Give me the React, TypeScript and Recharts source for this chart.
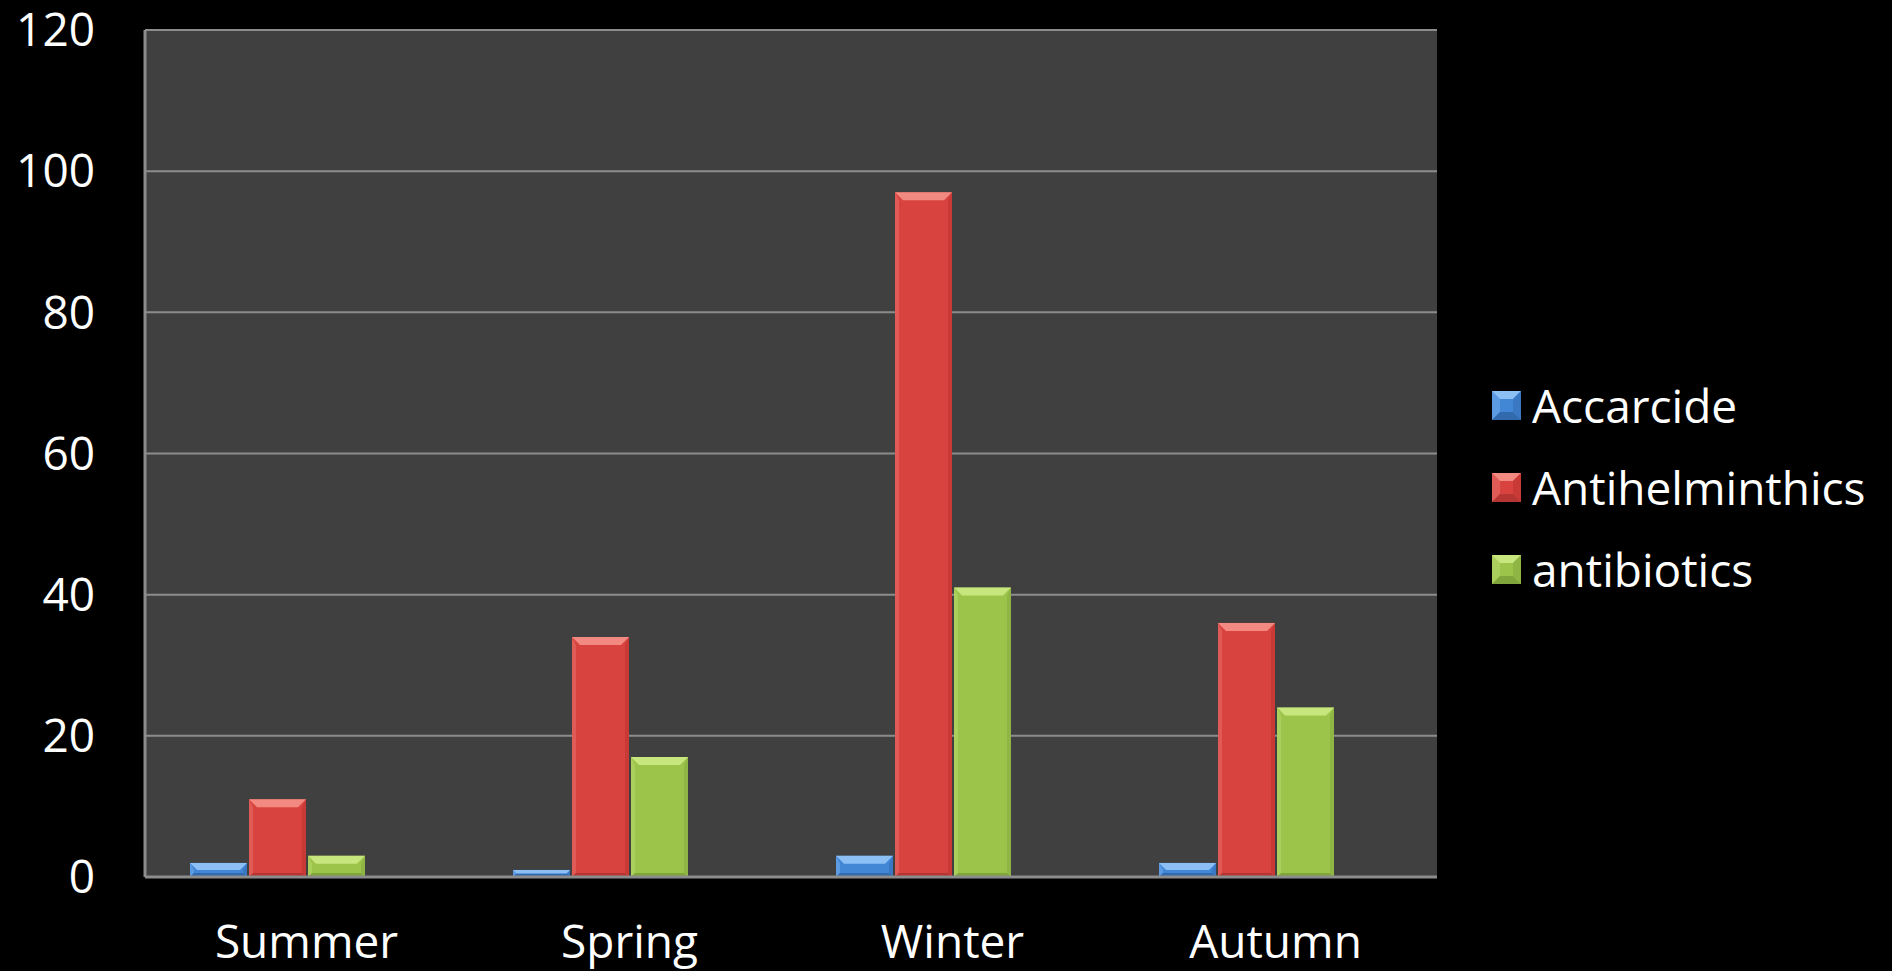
import React from 'react';
import { BarChart, Bar, XAxis, YAxis, CartesianGrid, Legend } from 'recharts';

const categories = ['Summer', 'Spring', 'Winter', 'Autumn'];
const accarcide = [2, 1, 3, 2];
const antihelminthics = [11, 34, 97, 36];
const antibiotics = [3, 17, 41, 24];
const yTicks = [0, 20, 40, 60, 80, 100, 120];

const data = categories.map((c, i) => ({
  name: c,
  Accarcide: accarcide[i],
  Antihelminthics: antihelminthics[i],
  antibiotics: antibiotics[i],
}));

const FONT = '"Open Sans", sans-serif';

const palette: Record<string, { base: string; light: string; side: string; dark: string }> = {
  Accarcide: { base: '#4286d6', light: '#8cc0f5', side: '#3a78c4', dark: '#2c5e9c' },
  Antihelminthics: { base: '#d8433f', light: '#f28a82', side: '#c93a36', dark: '#a52f2c' },
  antibiotics: { base: '#9cc44b', light: '#c8e67e', side: '#8fb644', dark: '#759a34' },
};

const BevelBar = (props: any) => {
  const { x, y, width, height, k } = props;
  const c = palette[k];
  if (!c || !height || height <= 0 || !width) return null;
  const b = Math.min(8, height / 2, width / 2);
  const sb = Math.min(4, width / 4, height / 2);
  const x2 = x + width;
  const y2 = y + height;
  return (
    <g>
      <rect x={x} y={y} width={width} height={height} fill={c.base} />
      <polygon points={`${x},${y} ${x + sb},${y + b} ${x + sb},${y2 - sb} ${x},${y2}`} fill={c.light} opacity={0.35} />
      <polygon points={`${x2},${y} ${x2 - sb},${y + b} ${x2 - sb},${y2 - sb} ${x2},${y2}`} fill={c.side} />
      <polygon points={`${x},${y2} ${x + sb},${y2 - sb} ${x2 - sb},${y2 - sb} ${x2},${y2}`} fill={c.dark} opacity={0.7} />
      <polygon points={`${x},${y} ${x2},${y} ${x2 - b},${y + b} ${x + b},${y + b}`} fill={c.light} />
    </g>
  );
};

const LegendSwatch = ({ c }: { c: { base: string; light: string; side: string; dark: string } }) => (
  <svg width={29} height={29} style={{ marginRight: 11, display: 'block' }}>
    <rect x={0} y={0} width={29} height={29} fill={c.base} />
    <polygon points="0,0 29,0 21,8 8,8" fill={c.light} />
    <polygon points="0,0 8,8 8,21 0,29" fill={c.light} opacity={0.35} />
    <polygon points="29,0 21,8 21,21 29,29" fill={c.side} />
    <polygon points="0,29 8,21 21,21 29,29" fill={c.dark} opacity={0.7} />
  </svg>
);

const LegendContent = (props: any) => {
  const { payload } = props;
  const items = (payload || []).filter((p: any) => palette[p.value]);
  return (
    <div style={{ fontFamily: FONT }}>
      {items.map((p: any) => {
        const c = palette[p.value];
        return (
          <div key={p.value} style={{ display: 'flex', alignItems: 'center', height: 82 }}>
            <LegendSwatch c={c} />
            <span style={{ color: '#ffffff', fontSize: 46, lineHeight: '52px' }}>{p.value}</span>
          </div>
        );
      })}
    </div>
  );
};

export default function App() {
  return (
    <div style={{ position: 'absolute', left: 0, top: 0, width: 1892, height: 971, background: '#000000' }}>
      <BarChart
        width={1892}
        height={971}
        data={data}
        margin={{ top: 30, right: 55, bottom: 0, left: 0 }}
        barCategoryGap={45}
        barGap={2}
      >
        <CartesianGrid vertical={false} stroke="#8c8c8c" strokeWidth={2} fill="#404040" />
        <XAxis
          dataKey="name"
          height={94}
          axisLine={{ stroke: '#8c8c8c', strokeWidth: 3 }}
          tickLine={false}
          tickSize={0}
          tickMargin={48}
          tick={{ fill: '#ffffff', fontSize: 46, fontFamily: FONT }}
        />
        <YAxis
          width={145}
          domain={[0, 120]}
          ticks={yTicks}
          interval={0}
          axisLine={{ stroke: '#8c8c8c', strokeWidth: 3 }}
          tickLine={false}
          tickSize={0}
          tickMargin={50}
          tick={{ fill: '#ffffff', fontSize: 46, fontFamily: FONT }}
        />
        <Legend
          layout="vertical"
          align="right"
          verticalAlign="top"
          content={<LegendContent />}
          wrapperStyle={{ left: 1492, top: 364, width: 400 }}
        />
        <Bar dataKey="Accarcide" isAnimationActive={false} shape={(p: any) => <BevelBar {...p} k="Accarcide" />} />
        <Bar dataKey="Antihelminthics" isAnimationActive={false} shape={(p: any) => <BevelBar {...p} k="Antihelminthics" />} />
        <Bar dataKey="antibiotics" isAnimationActive={false} shape={(p: any) => <BevelBar {...p} k="antibiotics" />} />
        <Bar dataKey="spacer" isAnimationActive={false} legendType="none" />
      </BarChart>
    </div>
  );
}
